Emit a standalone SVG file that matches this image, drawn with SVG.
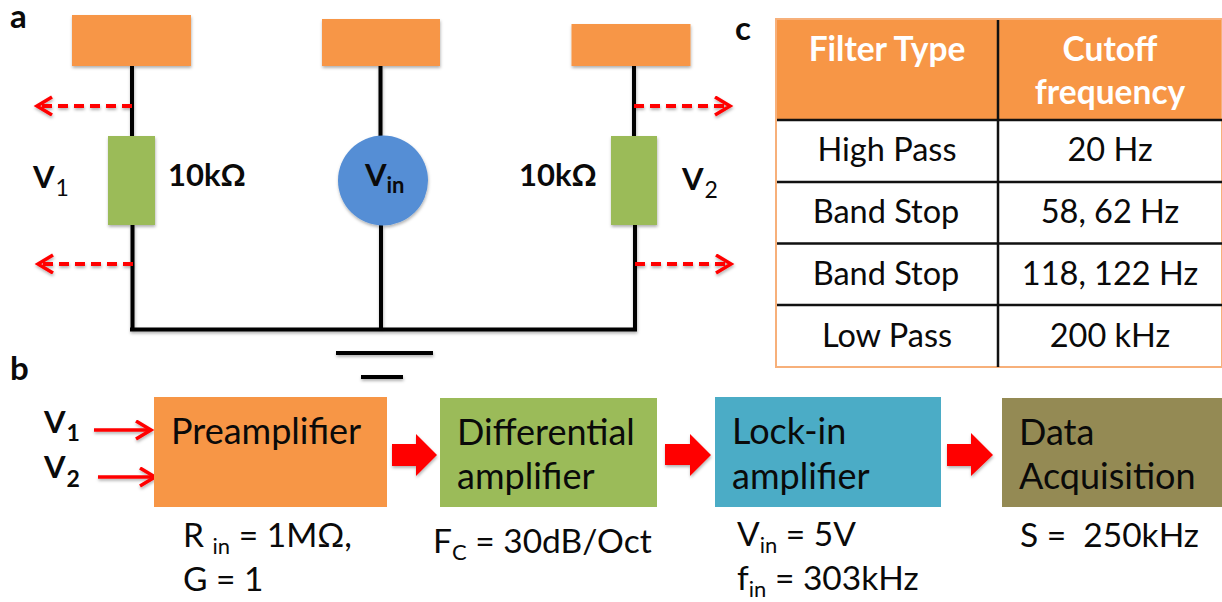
<svg xmlns="http://www.w3.org/2000/svg" width="1222" height="602" viewBox="0 0 1222 602">
<style>
text{font-family:Lato,"Open Sans","Liberation Sans",sans-serif;fill:#0a0a0a}
.lab{font-size:31px;font-weight:700}
.tag{font-size:33px;font-weight:700}
.cell{font-size:32.500px;text-anchor:middle}
.head{font-size:33.500px;font-weight:700;text-anchor:middle;fill:#fff}
.box{font-size:36px}
.note{font-size:33.500px}
.wire{stroke:#000;stroke-width:4;fill:none}
.red{stroke:#f00;stroke-width:3.500;fill:none}
.dash{stroke-width:4;stroke-dasharray:10 6}
.o{fill:#f79646}.g{fill:#9bbb59}
.tl{stroke:#111;stroke-width:2.500}
</style>
<defs>
<filter id="s" x="-20%" y="-20%" width="140%" height="140%"><feDropShadow dx="0.5" dy="2" stdDeviation="1.5" flood-color="#000" flood-opacity="0.3"/></filter>
<marker id="op" markerUnits="userSpaceOnUse" markerWidth="20" markerHeight="22" refX="16" refY="10" orient="auto"><path d="M1 1L16 10L1 19" fill="none" stroke="#f00" stroke-width="3.5"/></marker>
</defs>
<g id="connectors">
<g filter="url(#s)">
<path class="wire" d="M132 66V136M132.500 225V330M380.500 66V136M381 225V330M634 66V136M635 225V330M130 329.500H637"/>
<path class="wire" d="M336 353H433M361 377H403"/>
</g>
<g filter="url(#s)">
<path class="red dash" marker-end="url(#op)" d="M132 106H37"/>
<path class="red dash" marker-end="url(#op)" d="M133 264H38"/>
<path class="red dash" marker-end="url(#op)" d="M634 106H730"/>
<path class="red dash" marker-end="url(#op)" d="M635 264H731"/>
<path class="red" marker-end="url(#op)" d="M94 430H151"/>
<path class="red" marker-end="url(#op)" d="M98 477H155"/>
</g>
</g>
<g id="electrode-1"><rect class="o" x="72" y="15" width="119" height="51" filter="url(#s)"/></g>
<g id="electrode-2"><rect class="o" x="322" y="19" width="118" height="47" filter="url(#s)"/></g>
<g id="electrode-3"><rect class="o" x="571.500" y="24" width="119" height="42" filter="url(#s)"/></g>
<g id="resistor-1"><rect class="g" x="108" y="136" width="47" height="89" filter="url(#s)"/></g>
<g id="resistor-2"><rect class="g" x="611" y="136" width="46" height="89" filter="url(#s)"/></g>
<g id="source"><circle cx="383" cy="180.500" r="45" fill="#558ed5" filter="url(#s)"/>
<text class="lab" x="365" y="186">V<tspan font-size="22" dy="7">in</tspan></text></g>
<g id="labels-a">
<text class="tag" x="10" y="28">a</text>
<text class="lab" x="33" y="188">V<tspan font-size="23" font-weight="400" dy="8" dx="1">1</tspan></text>
<text class="lab" x="168" y="186">10kΩ</text>
<text class="lab" x="519" y="186">10kΩ</text>
<text class="lab" x="682" y="190">V<tspan font-size="23" font-weight="400" dy="8" dx="1">2</tspan></text>
<text class="tag" x="10" y="380">b</text>
<text class="tag" x="735" y="40">c</text>
</g>
<g id="filter-table">
<rect x="776" y="19" width="446" height="101" class="o"/>
<rect x="776" y="19" width="446" height="348" fill="none" stroke="#f7b07a" stroke-width="2"/>
<path class="tl" d="M777 120H1222M777 182H1222M777 243.500H1222M777 305H1222M998 20V367"/>
<text class="head" x="887" y="61">Filter Type</text>
<text class="head" x="1110" y="61">Cutoff</text>
<text class="head" x="1110" y="104">frequency</text>
<text class="cell" x="887" y="161">High Pass</text><text class="cell" x="1110" y="161">20 Hz</text>
<text class="cell" x="886" y="223">Band Stop</text><text class="cell" x="1110" y="223">58, 62 Hz</text>
<text class="cell" x="886" y="285">Band Stop</text><text class="cell" x="1110" y="285">118, 122 Hz</text>
<text class="cell" x="887" y="347">Low Pass</text><text class="cell" x="1110" y="347">200 kHz</text>
</g>
<g id="preamplifier"><rect class="o" x="154" y="397" width="233" height="110"/>
<text class="box" x="171" y="444">Preamplifier</text></g>
<g id="differential"><rect class="g" x="440" y="398" width="217" height="109"/>
<text class="box" x="457" y="445">Differential</text><text class="box" x="457" y="489">amplifier</text></g>
<g id="lockin"><rect x="715" y="397" width="226" height="110" fill="#4bacc6"/>
<text class="box" x="732" y="444">Lock-in</text><text class="box" x="732" y="489">amplifier</text></g>
<g id="daq"><rect x="1002" y="398" width="220" height="109" fill="#948a54"/>
<text class="box" x="1019" y="445">Data</text><text class="box" x="1019" y="489">Acquisition</text></g>
<g id="block-arrows" fill="#f00" filter="url(#s)">
<path d="M392 444H416V434L437 455L416 476V466H392Z"/>
<path d="M665 444H690V434L711 455L690 476V465H665Z"/>
<path d="M947 444H971V433L993 455L971 476V466H947Z"/>
</g>
<g id="labels-b">
<text class="lab" x="44" y="433">V<tspan font-size="23" dy="8" dx="1">1</tspan></text>
<text class="lab" x="44" y="478">V<tspan font-size="23" dy="9" dx="1">2</tspan></text>
<text class="note" x="183" y="547">R <tspan font-size="22" dy="7">in</tspan><tspan dy="-7"> = 1MΩ,</tspan></text>
<text class="note" x="183" y="591">G = 1</text>
<text class="note" x="433" y="553">F<tspan font-size="22" dy="7">C</tspan><tspan dy="-7"> = 30dB/Oct</tspan></text>
<text class="note" x="737" y="546">V<tspan font-size="22" dy="7">in</tspan><tspan dy="-7"> = 5V</tspan></text>
<text class="note" x="737" y="590">f<tspan font-size="22" dy="7">in</tspan><tspan dy="-7"> = 303kHz</tspan></text>
<text class="note" x="1020" y="547">S =&#160; 250kHz</text>
</g>
</svg>
